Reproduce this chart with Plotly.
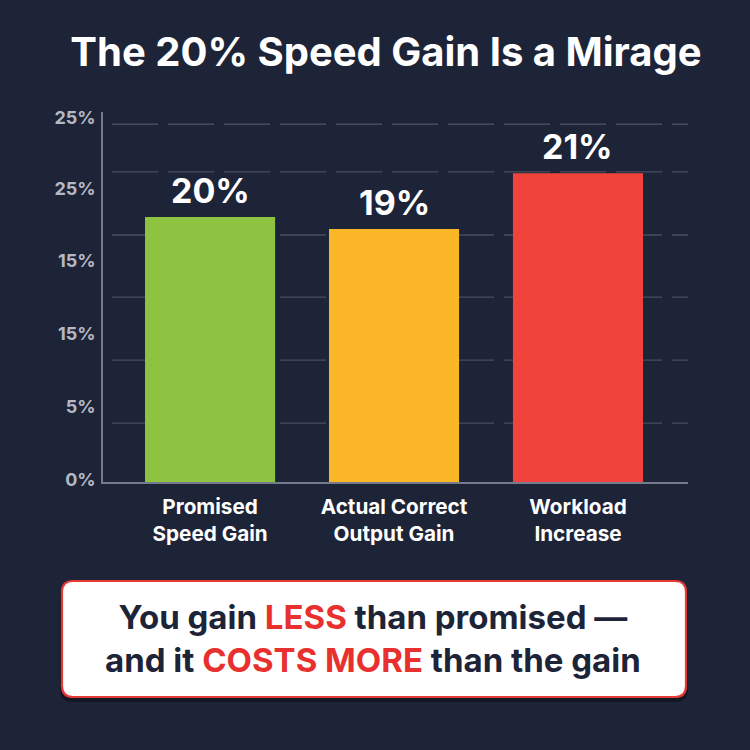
import plotly.graph_objects as go

# ---- data ----
categories = ["Promised<br>Speed Gain", "Actual Correct<br>Output Gain", "Workload<br>Increase"]
bar_heights = [20.0, 19.1, 23.3]          # visual bar heights
value_labels = ["20%", "19%", "21%"]      # printed labels above the bars
bar_colors = ["#8cc441", "#fbb627", "#f0433b"]
tick_positions = [0.2, 5.7, 11.2, 16.7, 22.1, 27.5]
tick_labels = ["0%", "5%", "15%", "15%", "25%", "25%"]
grid_positions = [4.45, 9.2, 13.96, 18.64, 23.4, 27.0]

BG = "#1e2438"
FONT = "Inter"
W, H = 750, 750
L, R, T, B = 103, 62, 112, 268
PW, PH = W - L - R, H - T - B


def px_to_paper(x, y):
    return (x - L) / PW, (H - B - y) / PH


def rounded_rect(x0, y0, x1, y1, r):
    def p(x, y):
        a, b = px_to_paper(x, y)
        return f"{a:.5f},{b:.5f}"
    return (f"M {p(x0 + r, y0)} L {p(x1 - r, y0)} Q {p(x1, y0)} {p(x1, y0 + r)} "
            f"L {p(x1, y1 - r)} Q {p(x1, y1)} {p(x1 - r, y1)} "
            f"L {p(x0 + r, y1)} Q {p(x0, y1)} {p(x0, y1 - r)} "
            f"L {p(x0, y0 + r)} Q {p(x0, y0)} {p(x0 + r, y0)} Z")


fig = go.Figure()
fig.add_trace(go.Bar(
    x=categories, y=bar_heights, marker=dict(color=bar_colors, line=dict(width=0)),
    width=0.707, hoverinfo="skip",
))

shapes = []
for g in grid_positions:
    shapes.append(dict(type="line", xref="paper", yref="y",
                       x0=(112 - L) / PW, x1=1.0, y0=g, y1=g,
                       line=dict(color="rgba(200,205,220,0.24)", width=1.3, dash="46px,10px"),
                       layer="below"))

# callout shadow + box
shapes.append(dict(type="path", xref="paper", yref="paper",
                   path=rounded_rect(60, 584, 688, 702, 12),
                   fillcolor="rgba(0,0,0,0.35)", line=dict(width=0), layer="above"))
shapes.append(dict(type="path", xref="paper", yref="paper",
                   path=rounded_rect(62, 581, 686, 697, 11),
                   fillcolor="#ffffff", line=dict(color="#e53935", width=2.2), layer="above"))
fig.update_layout(shapes=shapes)

annotations = []
for c, h, lab in zip(categories, bar_heights, value_labels):
    annotations.append(dict(x=c, y=h, xref="x", yref="y", text=lab, showarrow=False,
                            yanchor="bottom", yshift=4,
                            font=dict(family=FONT, size=34, color="white", weight="bold")))

cx, cy = px_to_paper(373, 638)
annotations.append(dict(
    x=cx, y=cy, xref="paper", yref="paper", showarrow=False, align="center",
    xanchor="center", yanchor="middle",
    text=("You gain <span style='color:#e8302f'>LESS</span> than promised —<br>"
          "and it <span style='color:#e8302f'>COSTS MORE</span> than the gain"),
    font=dict(family=FONT, size=33, color="#1e2438", weight="bold"),
))

fig.update_layout(
    annotations=annotations,
    width=W, height=H,
    margin=dict(l=L, r=R, t=T, b=B, pad=0),
    paper_bgcolor=BG, plot_bgcolor=BG,
    showlegend=False,
    title=dict(text="The 20% Speed Gain Is a Mirage", x=386 / W, xref="container",
               y=1 - 52 / H, yref="container", xanchor="center", yanchor="middle",
               font=dict(family=FONT, size=40, color="white", weight="bold")),
    xaxis=dict(range=[-0.582, 2.598], showgrid=False, zeroline=False,
               showline=True, linecolor="rgba(190,195,210,0.55)", linewidth=1.5,
               ticks="", ticklabelstandoff=5,
               tickfont=dict(family=FONT, size=20.7, color="white", weight="bold")),
    yaxis=dict(range=[0, (H - B - T) / 13.25], showgrid=False, zeroline=False,
               showline=True, linecolor="rgba(190,195,210,0.55)", linewidth=1.5,
               tickmode="array", tickvals=tick_positions, ticktext=tick_labels,
               ticks="", ticklabelstandoff=2,
               tickfont=dict(family=FONT, size=18, color="#b4b8c2", weight="bold")),
)

fig.write_html("out.html")
